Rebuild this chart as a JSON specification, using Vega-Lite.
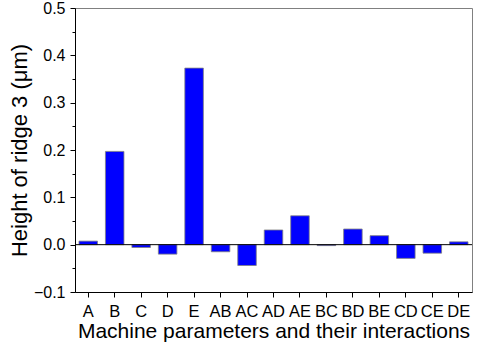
{
  "$schema": "https://vega.github.io/schema/vega-lite/v6.json",
  "autosize": "none",
  "width": 397,
  "height": 284,
  "padding": {"left": 75, "top": 8, "right": 7, "bottom": 59},
  "background": "white",
  "config": {
    "font": "Liberation Sans",
    "view": {"stroke": "#808080", "strokeWidth": 1}
  },
  "data": {
    "values": [
      {"factor": "A", "height": 0.0075},
      {"factor": "B", "height": 0.197},
      {"factor": "C", "height": -0.006},
      {"factor": "D", "height": -0.02},
      {"factor": "E", "height": 0.373},
      {"factor": "AB", "height": -0.015},
      {"factor": "AC", "height": -0.044},
      {"factor": "AD", "height": 0.031},
      {"factor": "AE", "height": 0.061},
      {"factor": "BC", "height": -0.002},
      {"factor": "BD", "height": 0.033},
      {"factor": "BE", "height": 0.019},
      {"factor": "CD", "height": -0.029},
      {"factor": "CE", "height": -0.018},
      {"factor": "DE", "height": 0.006}
    ]
  },
  "layer": [
    {
      "mark": {"type": "bar", "color": "#0000ff", "stroke": "#808080", "strokeWidth": 0.8},
      "encoding": {
        "x": {
          "field": "factor", "type": "nominal", "sort": null,
          "scale": {"paddingInner": 0.3, "paddingOuter": 0.15},
          "axis": {
            "title": "Machine parameters and their interactions",
            "labelAngle": 0, "labelFontSize": 16.5, "labelColor": "black",
            "labelPadding": 6, "tickSize": 5, "tickColor": "black",
            "domainColor": "black", "titleFontSize": 21, "titleFontWeight": "normal",
            "titleColor": "black", "titlePadding": 1
          }
        },
        "y": {
          "field": "height", "type": "quantitative",
          "scale": {"domain": [-0.1, 0.5], "nice": false, "zero": false},
          "axis": {
            "title": "Height of ridge 3 (μm)",
            "values": [-0.1, 0, 0.1, 0.2, 0.3, 0.4, 0.5],
            "format": ".1f", "grid": false,
            "labelFontSize": 16, "labelColor": "black", "labelPadding": 5,
            "tickSize": 5, "tickColor": "black", "domainColor": "black",
            "titleFontSize": 22, "titleFontWeight": "normal", "titleColor": "black",
            "titlePadding": 2
          }
        }
      }
    },
    {
      "data": {"values": [{"v": 0}]},
      "mark": {"type": "rule", "color": "black", "strokeWidth": 1},
      "encoding": {
        "y": {"field": "v", "type": "quantitative", "axis": {
          "values": [-0.05, 0.05, 0.15, 0.25, 0.35, 0.45],
          "labels": false, "title": null, "grid": false, "domain": false,
          "tickSize": 3, "tickColor": "black", "orient": "left"
        }}
      }
    }
  ],
  "resolve": {"axis": {"y": "independent"}}
}
